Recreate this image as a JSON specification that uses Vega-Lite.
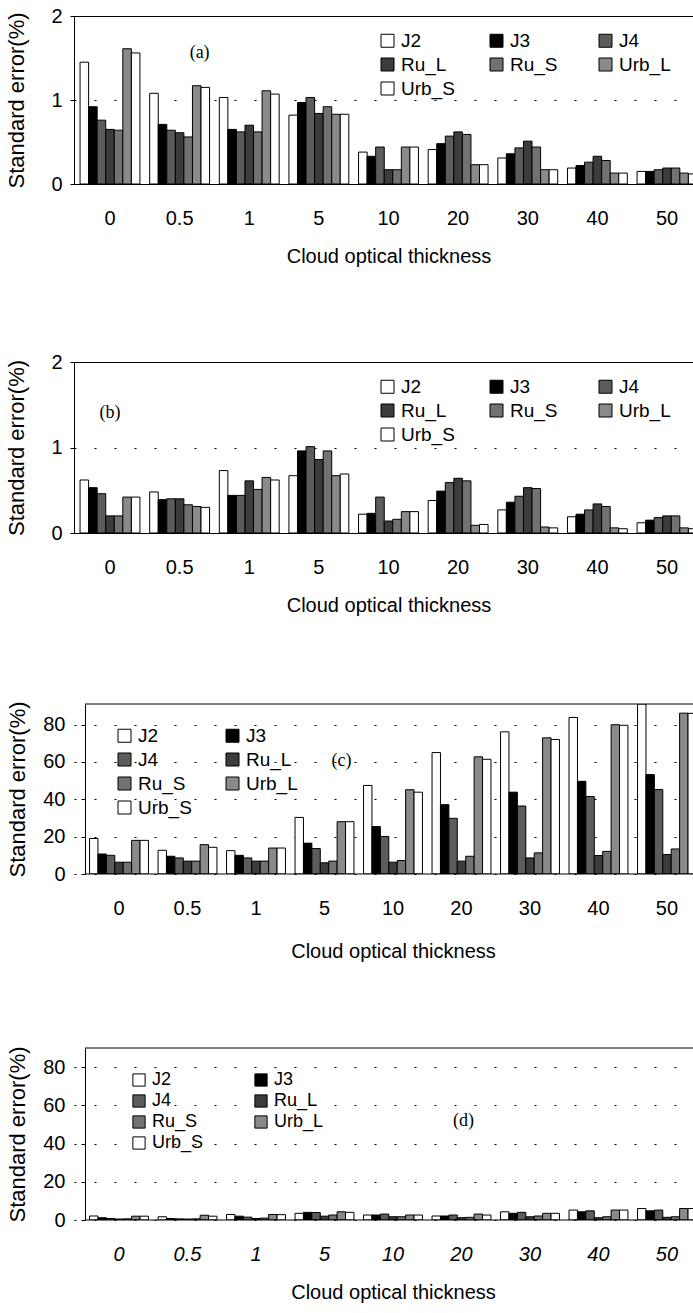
{
  "$schema": "https://vega.github.io/schema/vega-lite/v6.json",
  "background": "white",
  "padding": 5,
  "config": {
    "font": "Liberation Sans",
    "view": {"stroke": "black", "strokeWidth": 1},
    "axis": {"labelFont": "Liberation Sans", "titleFont": "Liberation Sans", "labelColor": "black", "titleColor": "black", "domainColor": "black", "tickColor": "black", "titleFontWeight": "normal", "labelFontSize": 20, "titleFontSize": 20},
    "axisX": {"ticks": false, "labelAngle": 0, "labelPadding": 24, "titlePadding": 18, "grid": false},
    "axisY": {"titleFontSize": 22, "tickSize": 4, "grid": true, "gridColor": "black", "gridDash": [2, 18], "gridWidth": 1, "format": "d"},
    "legend": {"labelFont": "Liberation Sans", "labelColor": "black", "symbolType": "square", "symbolStrokeColor": "black", "symbolStrokeWidth": 1, "padding": 0, "direction": "horizontal"}
  },
  "datasets": {
    "a": [
      {"t": "0", "J2": 1.45, "J3": 0.92, "J4": 0.76, "Ru_L": 0.65, "Ru_S": 0.64, "Urb_L": 1.61, "Urb_S": 1.56},
      {"t": "0.5", "J2": 1.08, "J3": 0.71, "J4": 0.64, "Ru_L": 0.61, "Ru_S": 0.56, "Urb_L": 1.17, "Urb_S": 1.15},
      {"t": "1", "J2": 1.03, "J3": 0.65, "J4": 0.62, "Ru_L": 0.70, "Ru_S": 0.62, "Urb_L": 1.11, "Urb_S": 1.07},
      {"t": "5", "J2": 0.82, "J3": 0.97, "J4": 1.03, "Ru_L": 0.84, "Ru_S": 0.92, "Urb_L": 0.83, "Urb_S": 0.83},
      {"t": "10", "J2": 0.38, "J3": 0.33, "J4": 0.44, "Ru_L": 0.17, "Ru_S": 0.17, "Urb_L": 0.44, "Urb_S": 0.44},
      {"t": "20", "J2": 0.41, "J3": 0.48, "J4": 0.57, "Ru_L": 0.62, "Ru_S": 0.59, "Urb_L": 0.23, "Urb_S": 0.23},
      {"t": "30", "J2": 0.31, "J3": 0.36, "J4": 0.43, "Ru_L": 0.51, "Ru_S": 0.44, "Urb_L": 0.17, "Urb_S": 0.17},
      {"t": "40", "J2": 0.19, "J3": 0.22, "J4": 0.26, "Ru_L": 0.33, "Ru_S": 0.28, "Urb_L": 0.13, "Urb_S": 0.13},
      {"t": "50", "J2": 0.15, "J3": 0.15, "J4": 0.17, "Ru_L": 0.19, "Ru_S": 0.19, "Urb_L": 0.13, "Urb_S": 0.12}
    ],
    "b": [
      {"t": "0", "J2": 0.62, "J3": 0.53, "J4": 0.46, "Ru_L": 0.20, "Ru_S": 0.20, "Urb_L": 0.42, "Urb_S": 0.42},
      {"t": "0.5", "J2": 0.48, "J3": 0.39, "J4": 0.40, "Ru_L": 0.40, "Ru_S": 0.33, "Urb_L": 0.31, "Urb_S": 0.30},
      {"t": "1", "J2": 0.73, "J3": 0.44, "J4": 0.44, "Ru_L": 0.61, "Ru_S": 0.51, "Urb_L": 0.65, "Urb_S": 0.62},
      {"t": "5", "J2": 0.67, "J3": 0.96, "J4": 1.01, "Ru_L": 0.86, "Ru_S": 0.96, "Urb_L": 0.67, "Urb_S": 0.69},
      {"t": "10", "J2": 0.22, "J3": 0.23, "J4": 0.42, "Ru_L": 0.14, "Ru_S": 0.16, "Urb_L": 0.25, "Urb_S": 0.25},
      {"t": "20", "J2": 0.38, "J3": 0.49, "J4": 0.59, "Ru_L": 0.64, "Ru_S": 0.61, "Urb_L": 0.09, "Urb_S": 0.10},
      {"t": "30", "J2": 0.27, "J3": 0.36, "J4": 0.43, "Ru_L": 0.53, "Ru_S": 0.52, "Urb_L": 0.07, "Urb_S": 0.06},
      {"t": "40", "J2": 0.19, "J3": 0.22, "J4": 0.27, "Ru_L": 0.34, "Ru_S": 0.31, "Urb_L": 0.06, "Urb_S": 0.05},
      {"t": "50", "J2": 0.12, "J3": 0.15, "J4": 0.18, "Ru_L": 0.20, "Ru_S": 0.20, "Urb_L": 0.06, "Urb_S": 0.05}
    ],
    "c": [
      {"t": "0", "J2": 19.0, "J3": 10.7, "J4": 10.0, "Ru_L": 6.3, "Ru_S": 6.3, "Urb_L": 18.0, "Urb_S": 18.0},
      {"t": "0.5", "J2": 12.7, "J3": 9.5, "J4": 8.6, "Ru_L": 6.9, "Ru_S": 6.9, "Urb_L": 15.7, "Urb_S": 14.3},
      {"t": "1", "J2": 12.5, "J3": 10.0, "J4": 8.6, "Ru_L": 6.9, "Ru_S": 6.9, "Urb_L": 13.9, "Urb_S": 13.9},
      {"t": "5", "J2": 30.3, "J3": 16.5, "J4": 13.6, "Ru_L": 6.0, "Ru_S": 6.9, "Urb_L": 28.0, "Urb_S": 28.0},
      {"t": "10", "J2": 47.4, "J3": 25.4, "J4": 20.1, "Ru_L": 6.3, "Ru_S": 7.2, "Urb_L": 45.1, "Urb_S": 43.8},
      {"t": "20", "J2": 65.0, "J3": 37.1, "J4": 29.8, "Ru_L": 6.9, "Ru_S": 9.5, "Urb_L": 62.7, "Urb_S": 61.4},
      {"t": "30", "J2": 76.1, "J3": 43.8, "J4": 36.4, "Ru_L": 8.6, "Ru_S": 11.3, "Urb_L": 72.9, "Urb_S": 72.0},
      {"t": "40", "J2": 83.8, "J3": 49.6, "J4": 41.5, "Ru_L": 9.9, "Ru_S": 12.1, "Urb_L": 79.9, "Urb_S": 79.6},
      {"t": "50", "J2": 91.0, "J3": 53.2, "J4": 45.2, "Ru_L": 10.4, "Ru_S": 13.4, "Urb_L": 86.1, "Urb_S": 86.0}
    ],
    "d": [
      {"t": "0", "J2": 2.1, "J3": 1.2, "J4": 0.8, "Ru_L": 0.5, "Ru_S": 0.6, "Urb_L": 2.0, "Urb_S": 2.0},
      {"t": "0.5", "J2": 1.7, "J3": 0.8, "J4": 0.6, "Ru_L": 0.5, "Ru_S": 0.6, "Urb_L": 2.5, "Urb_S": 2.0},
      {"t": "1", "J2": 2.9, "J3": 2.0, "J4": 1.5, "Ru_L": 0.8, "Ru_S": 1.0, "Urb_L": 2.9, "Urb_S": 2.8},
      {"t": "5", "J2": 3.5, "J3": 4.0, "J4": 3.9, "Ru_L": 2.0, "Ru_S": 2.6, "Urb_L": 4.3, "Urb_S": 4.0},
      {"t": "10", "J2": 2.6, "J3": 2.6, "J4": 3.1, "Ru_L": 1.7, "Ru_S": 1.7, "Urb_L": 2.6, "Urb_S": 2.6},
      {"t": "20", "J2": 2.1, "J3": 2.1, "J4": 2.6, "Ru_L": 1.2, "Ru_S": 1.4, "Urb_L": 3.1, "Urb_S": 2.6},
      {"t": "30", "J2": 4.3, "J3": 3.5, "J4": 4.0, "Ru_L": 1.7, "Ru_S": 2.1, "Urb_L": 3.5, "Urb_S": 3.5},
      {"t": "40", "J2": 5.2, "J3": 4.3, "J4": 4.8, "Ru_L": 1.2, "Ru_S": 1.7, "Urb_L": 5.2, "Urb_S": 5.2},
      {"t": "50", "J2": 6.0, "J3": 4.8, "J4": 5.2, "Ru_L": 1.4, "Ru_S": 1.7, "Urb_L": 6.0, "Urb_S": 6.0}
    ]
  },
  "spacing": 84,
  "resolve": {"scale": {"fill": "independent", "x": "independent", "y": "independent", "xOffset": "independent"}, "legend": {"fill": "independent"}},
  "vconcat": [
    {
      "width": 629, "height": 168,
      "layer": [
        {
          "data": {"name": "a"},
          "transform": [{"fold": ["J2", "J3", "J4", "Ru_L", "Ru_S", "Urb_L", "Urb_S"], "as": ["series", "value"]}],
          "mark": {"type": "bar", "stroke": "black", "strokeWidth": 1, "clip": true},
          "encoding": {
            "x": {"field": "t", "type": "nominal", "sort": null, "title": "Cloud optical thickness", "scale": {"domain": ["0", "0.5", "1", "5", "10", "20", "30", "40", "50"], "paddingInner": 0.14, "paddingOuter": 0.087}},
            "xOffset": {"field": "series", "type": "nominal", "scale": {"domain": ["J2", "J3", "J4", "Ru_L", "Ru_S", "Urb_L", "Urb_S"], "paddingInner": 0, "paddingOuter": 0}},
            "y": {"field": "value", "type": "quantitative", "title": "Standard error(%)", "scale": {"domain": [0, 2], "nice": false}, "axis": {"values": [0, 1, 2], "labelPadding": 8, "titlePadding": 22}},
            "fill": {"field": "series", "type": "nominal", "scale": {"domain": ["J2", "J3", "J4", "Ru_L", "Ru_S", "Urb_L", "Urb_S"], "range": ["#ffffff", "#000000", "#5c5c5c", "#3c3c3c", "#727272", "#8a8a8a", "#ffffff"]},
              "legend": {"orient": "none", "direction": "horizontal", "legendX": 304, "legendY": 15, "columns": 3, "title": null, "gridAlign": "all", "columnPadding": 32, "rowPadding": 4, "symbolSize": 169, "labelFontSize": 19, "labelOffset": 4}}
          }
        },
        {
          "data": {"values": [{}]},
          "mark": {"type": "text", "font": "Liberation Serif", "fontSize": 18, "dx": 20, "color": "black"},
          "encoding": {"x": {"datum": "0.5"}, "y": {"datum": 1.56}, "text": {"value": "(a)"}}
        }
      ]
    },
    {
      "width": 629, "height": 171,
      "layer": [
        {
          "data": {"name": "b"},
          "transform": [{"fold": ["J2", "J3", "J4", "Ru_L", "Ru_S", "Urb_L", "Urb_S"], "as": ["series", "value"]}],
          "mark": {"type": "bar", "stroke": "black", "strokeWidth": 1, "clip": true},
          "encoding": {
            "x": {"field": "t", "type": "nominal", "sort": null, "title": "Cloud optical thickness", "scale": {"domain": ["0", "0.5", "1", "5", "10", "20", "30", "40", "50"], "paddingInner": 0.14, "paddingOuter": 0.087}},
            "xOffset": {"field": "series", "type": "nominal", "scale": {"domain": ["J2", "J3", "J4", "Ru_L", "Ru_S", "Urb_L", "Urb_S"], "paddingInner": 0, "paddingOuter": 0}},
            "y": {"field": "value", "type": "quantitative", "title": "Standard error(%)", "scale": {"domain": [0, 2], "nice": false}, "axis": {"values": [0, 1, 2], "labelPadding": 8, "titlePadding": 22}},
            "fill": {"field": "series", "type": "nominal", "scale": {"domain": ["J2", "J3", "J4", "Ru_L", "Ru_S", "Urb_L", "Urb_S"], "range": ["#ffffff", "#000000", "#5c5c5c", "#3c3c3c", "#727272", "#8a8a8a", "#ffffff"]},
              "legend": {"orient": "none", "direction": "horizontal", "legendX": 304, "legendY": 15, "columns": 3, "title": null, "gridAlign": "all", "columnPadding": 32, "rowPadding": 4, "symbolSize": 169, "labelFontSize": 19, "labelOffset": 4}}
          }
        },
        {
          "data": {"values": [{}]},
          "mark": {"type": "text", "font": "Liberation Serif", "fontSize": 18, "dx": 0, "color": "black"},
          "encoding": {"x": {"datum": "0"}, "y": {"datum": 1.4}, "text": {"value": "(b)"}}
        }
      ]
    },
    {
      "width": 638, "height": 170,
      "view": {"stroke": null},
      "layer": [
        {
          "data": {"name": "c"},
          "transform": [{"fold": ["J2", "J3", "J4", "Ru_L", "Ru_S", "Urb_L", "Urb_S"], "as": ["series", "value"]}],
          "mark": {"type": "bar", "stroke": "black", "strokeWidth": 1, "clip": true},
          "encoding": {
            "x": {"field": "t", "type": "nominal", "sort": null, "title": "Cloud optical thickness", "scale": {"domain": ["0", "0.5", "1", "5", "10", "20", "30", "40", "50"], "paddingInner": 0.14, "paddingOuter": 0.227}, "axis": {"titlePadding": 23, "domain": false}},
            "xOffset": {"field": "series", "type": "nominal", "scale": {"domain": ["J2", "J3", "J4", "Ru_L", "Ru_S", "Urb_L", "Urb_S"], "paddingInner": 0, "paddingOuter": 0}},
            "y": {"field": "value", "type": "quantitative", "title": "Standard error(%)", "scale": {"domain": [0, 91], "nice": false}, "axis": {"values": [0, 20, 40, 60, 80], "labelPadding": 16, "titlePadding": 13, "offset": -11}},
            "fill": {"field": "series", "type": "nominal", "scale": {"domain": ["J2", "J3", "J4", "Ru_L", "Ru_S", "Urb_L", "Urb_S"], "range": ["#ffffff", "#000000", "#5c5c5c", "#3c3c3c", "#727272", "#8a8a8a", "#ffffff"]},
              "legend": {"orient": "none", "direction": "horizontal", "legendX": 41, "legendY": 22, "columns": 2, "title": null, "gridAlign": "all", "columnPadding": 31, "rowPadding": 4, "symbolSize": 169, "labelFontSize": 19, "labelOffset": 4}}
          }
        },
        {
          "data": {"values": [{}]},
          "mark": {"type": "rule", "color": "black", "strokeWidth": 1, "xOffset": -4.5, "x2Offset": 80},
          "encoding": {"x": {"datum": "0", "bandPosition": 0}, "x2": {"datum": "50"}, "y": {"datum": 91}}
        },
        {
          "data": {"values": [{}]},
          "mark": {"type": "rule", "color": "black", "strokeWidth": 1, "xOffset": -4.5, "x2Offset": 80},
          "encoding": {"x": {"datum": "0", "bandPosition": 0}, "x2": {"datum": "50"}, "y": {"datum": 0}}
        },
        {
          "data": {"values": [{}]},
          "mark": {"type": "text", "font": "Liberation Serif", "fontSize": 18, "dx": 17, "color": "black"},
          "encoding": {"x": {"datum": "5"}, "y": {"datum": 60.5}, "text": {"value": "(c)"}}
        }
      ]
    },
    {
      "width": 638, "height": 172,
      "view": {"stroke": null},
      "layer": [
        {
          "data": {"name": "d"},
          "transform": [{"fold": ["J2", "J3", "J4", "Ru_L", "Ru_S", "Urb_L", "Urb_S"], "as": ["series", "value"]}],
          "mark": {"type": "bar", "stroke": "black", "strokeWidth": 1, "clip": true},
          "encoding": {
            "x": {"field": "t", "type": "nominal", "sort": null, "title": "Cloud optical thickness", "scale": {"domain": ["0", "0.5", "1", "5", "10", "20", "30", "40", "50"], "paddingInner": 0.14, "paddingOuter": 0.227}, "axis": {"labelFontStyle": "italic", "domain": false}},
            "xOffset": {"field": "series", "type": "nominal", "scale": {"domain": ["J2", "J3", "J4", "Ru_L", "Ru_S", "Urb_L", "Urb_S"], "paddingInner": 0, "paddingOuter": 0}},
            "y": {"field": "value", "type": "quantitative", "title": "Standard error(%)", "scale": {"domain": [0, 90], "nice": false}, "axis": {"values": [0, 20, 40, 60, 80], "labelPadding": 16, "titlePadding": 13, "offset": -11}},
            "fill": {"field": "series", "type": "nominal", "scale": {"domain": ["J2", "J3", "J4", "Ru_L", "Ru_S", "Urb_L", "Urb_S"], "range": ["#ffffff", "#000000", "#5c5c5c", "#3c3c3c", "#727272", "#8a8a8a", "#ffffff"]},
              "legend": {"orient": "none", "direction": "horizontal", "legendX": 56, "legendY": 23, "columns": 2, "title": null, "gridAlign": "all", "columnPadding": 48, "rowPadding": 3, "symbolSize": 150, "labelFontSize": 18, "labelOffset": 4}}
          }
        },
        {
          "data": {"values": [{}]},
          "mark": {"type": "rule", "color": "black", "strokeWidth": 1, "xOffset": -4.5, "x2Offset": 80},
          "encoding": {"x": {"datum": "0", "bandPosition": 0}, "x2": {"datum": "50"}, "y": {"datum": 90}}
        },
        {
          "data": {"values": [{}]},
          "mark": {"type": "rule", "color": "black", "strokeWidth": 1, "xOffset": -4.5, "x2Offset": 80},
          "encoding": {"x": {"datum": "0", "bandPosition": 0}, "x2": {"datum": "50"}, "y": {"datum": 0}}
        },
        {
          "data": {"values": [{}]},
          "mark": {"type": "text", "font": "Liberation Serif", "fontSize": 18, "dx": 2, "color": "black"},
          "encoding": {"x": {"datum": "20"}, "y": {"datum": 52}, "text": {"value": "(d)"}}
        }
      ]
    }
  ]
}
